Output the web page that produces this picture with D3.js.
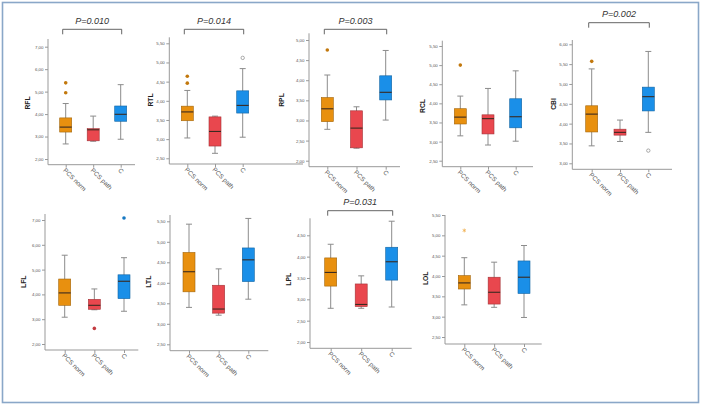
<!DOCTYPE html>
<html>
<head>
<meta charset="utf-8">
<script src="https://cdn.jsdelivr.net/npm/d3@7"></script>
<style>
  body { margin: 0; background: #fff; }
  svg { display: block; font-family: "Liberation Sans", Arial, sans-serif; }
</style>
</head>
<body>
<div id="chart"></div>
<script>
// groups on every x axis
var groups = ["PCS norm", "PCS path", "C"];
var measures = ["RFL", "RTL", "RPL", "RCL", "CBI", "LFL", "LTL", "LPL", "LOL"];

// [low whisker, Q1, median, Q3, high whisker] for PCS norm, PCS path, C
var rfl = [[2.67, 3.20, 3.42, 3.83, 4.47], [2.79, 2.81, 3.30, 3.35, 3.91], [2.88, 3.68, 3.99, 4.36, 5.31]];
var rtl = [[3.03, 3.48, 3.71, 3.86, 4.27], [2.63, 2.82, 3.20, 3.58, 3.60], [3.05, 3.68, 3.88, 4.26, 4.84]];
var rpl = [[2.78, 2.97, 3.29, 3.57, 4.13], [2.31, 2.32, 2.81, 3.24, 3.34], [3.01, 3.51, 3.70, 4.11, 4.74]];
var rcl = [[3.15, 3.46, 3.64, 3.86, 4.19], [2.91, 3.20, 3.60, 3.70, 4.39], [3.01, 3.36, 3.65, 4.12, 4.85]];
var cbi = [[3.44, 3.79, 4.24, 4.45, 5.38], [3.55, 3.71, 3.78, 3.86, 4.09], [3.78, 4.32, 4.68, 4.92, 5.82]];
var lfl = [[3.08, 3.56, 4.06, 4.62, 5.58], [3.38, 3.40, 3.56, 3.80, 4.22], [3.32, 3.83, 4.53, 4.79, 5.48]];
var ltl = [[3.40, 3.78, 4.27, 4.74, 5.43], [3.21, 3.26, 3.36, 3.94, 4.34], [3.60, 4.03, 4.56, 4.85, 5.57]];
var lpl = [[2.79, 3.31, 3.63, 3.97, 4.29], [2.79, 2.83, 2.88, 3.36, 3.55], [2.82, 3.45, 3.88, 4.22, 4.83]];
var lol = [[3.29, 3.68, 3.83, 4.01, 4.45], [3.23, 3.31, 3.60, 3.97, 4.34], [2.98, 3.57, 3.97, 4.37, 4.75]];

// outliers: [measure, group index, value, SPSS marker]
var outliers = [
  ["RFL", 0, 4.95, "dot"], ["RFL", 0, 5.39, "dot"],
  ["RTL", 0, 4.46, "dot"], ["RTL", 0, 4.64, "dot"], ["RTL", 2, 5.12, "ring"],
  ["RPL", 0, 4.75, "dot"],
  ["RCL", 0, 5.00, "dot"],
  ["CBI", 0, 5.57, "dot"], ["CBI", 2, 3.32, "ring"],
  ["LFL", 1, 2.63, "dot"], ["LFL", 2, 7.08, "dot"],
  ["LOL", 0, 5.12, "star"]
];

// y tick values
var ticksRfl = [2, 3, 4, 5, 6, 7];
var ticksRtl = [2.5, 3, 3.5, 4, 4.5, 5, 5.5];
var ticksRpl = [2, 2.5, 3, 3.5, 4, 4.5, 5];
var ticksRcl = [2.5, 3, 3.5, 4, 4.5, 5, 5.5];
var ticksCbi = [3, 3.5, 4, 4.5, 5, 5.5, 6];
var ticksLfl = [2, 3, 4, 5, 6, 7];
var ticksLtl = [2.5, 3, 3.5, 4, 4.5, 5, 5.5];
var ticksLpl = [2, 2.5, 3, 3.5, 4, 4.5];
var ticksLol = [2.5, 3, 3.5, 4, 4.5, 5, 5.5];

// p values of PCS norm vs C (null = none shown)
var pLabels = ["P=0.010", "P=0.014", "P=0.003", null, "P=0.002", null, null, "P=0.031", null];

var stats = [rfl, rtl, rpl, rcl, cbi, lfl, ltl, lpl, lol];
var ticks = [ticksRfl, ticksRtl, ticksRpl, ticksRcl, ticksCbi, ticksLfl, ticksLtl, ticksLpl, ticksLol];

// panel placement in the 702x406 frame
var layout = [
  {x: 48,    base: 164.7, top: 39,    right: 135,   y0: 159,   y1: 46.7,  c0: 65.7,  c1: 120.7, tx: 27,    ty: 103,   by: 29.3},
  {x: 169.3, base: 164,   top: 37.3,  right: 303,   y0: 158.3, y1: 43.3,  c0: 187.3, c1: 242.7, tx: 150,   ty: 100,   by: 29.3},
  {x: 309,   base: 166.7, top: 33.3,  right: 400,   y0: 160.7, y1: 40,    c0: 327.3, c1: 385.7, tx: 281,   ty: 100,   by: 29.3},
  {x: 442.3, base: 166.7, top: 40.7,  right: 533,   y0: 160.7, y1: 46,    c0: 460.3, c1: 515.7, tx: 422,   ty: 106,   by: 0},
  {x: 572.3, base: 169.3, top: 40,    right: 672,   y0: 163.3, y1: 44.3,  c0: 591.7, c1: 648.3, tx: 553,   ty: 104,   by: 22.7},
  {x: 45,    base: 350,   top: 214,   right: 138.3, y0: 344,   y1: 220,   c0: 64.7,  c1: 124,   tx: 23.3,  ty: 281.7, by: 0},
  {x: 170,   base: 350.7, top: 215,   right: 268.3, y0: 344.3, y1: 221.3, c0: 189,   c1: 248.3, tx: 148.3, ty: 281.7, by: 0},
  {x: 310,   base: 348.3, top: 218.3, right: 411.7, y0: 342,   y1: 235.3, c0: 330.7, c1: 391.7, tx: 288.3, ty: 279.3, by: 210.7},
  {x: 445,   base: 344,   top: 215,   right: 541.7, y0: 337,   y1: 215,   c0: 464.3, c1: 524,   tx: 425,   ty: 278.3, by: 0}
];

var colors = d3.scaleOrdinal().domain(groups).range(["#e8900f", "#e9474e", "#1a8fe8"]);
var fmt = d3.formatLocale({decimal: ",", thousands: ".", grouping: [3], currency: ["", ""]}).format(".2f");

var width = 702, height = 406;
var boxW = 12, capW = 6;

var svg = d3.select("#chart").append("svg")
            .attr("width", width)
            .attr("height", height);

// outer frame
svg.append("rect")
   .attr("x", 2.5).attr("y", 2.5)
   .attr("width", 696).attr("height", 400)
   .attr("fill", "none")
   .attr("stroke", "#8aa7c8")
   .attr("stroke-width", 1.6);

measures.forEach(function (name, i) {
    var L = layout[i];
    var tv = ticks[i];
    var y = d3.scaleLinear().domain([tv[0], tv[tv.length - 1]]).range([L.y0, L.y1]);
    var x = d3.scalePoint().domain(groups).range([L.c0, L.c1]);
    var g = svg.append("g");

    // y axis
    var ya = g.append("g")
              .attr("transform", "translate(" + L.x + ",0)")
              .call(d3.axisLeft(y).tickValues(tv).tickFormat(fmt).tickSize(3).tickPadding(1.5));
    ya.select(".domain").remove();
    ya.selectAll("line").attr("stroke", "#999");
    ya.selectAll("text").attr("font-size", 4.4).attr("fill", "#555").attr("font-family", null);
    g.append("line")
     .attr("x1", L.x).attr("x2", L.x)
     .attr("y1", L.top).attr("y2", L.base)
     .attr("stroke", "#999");

    // x axis
    var xa = g.append("g")
              .attr("transform", "translate(0," + L.base + ")")
              .call(d3.axisBottom(x).tickSize(3).tickFormat(""));
    xa.select(".domain").remove();
    xa.selectAll("line").attr("stroke", "#999");
    g.append("line")
     .attr("x1", L.x).attr("x2", L.right)
     .attr("y1", L.base).attr("y2", L.base)
     .attr("stroke", "#999");
    g.selectAll(".cat")
     .data(groups)
     .enter().append("text")
     .attr("class", "cat")
     .attr("transform", function (d) {
         return "translate(" + (x(d) - 3) + "," + (L.base + 6) + ") rotate(45)";
     })
     .attr("font-size", 6.4)
     .attr("fill", "#555")
     .text(function (d) { return d; });

    // axis title
    g.append("text")
     .attr("transform", "translate(" + L.tx + "," + L.ty + ") rotate(-90)")
     .attr("text-anchor", "middle")
     .attr("dominant-baseline", "central")
     .attr("font-size", 6.8)
     .attr("font-weight", "bold")
     .attr("fill", "#222")
     .text(name);

    // boxes
    var b = g.selectAll(".box")
             .data(stats[i])
             .enter().append("g")
             .attr("class", "box");
    b.append("line")
     .attr("x1", function (d, j) { return x(groups[j]); })
     .attr("x2", function (d, j) { return x(groups[j]); })
     .attr("y1", function (d) { return y(d[0]); })
     .attr("y2", function (d) { return y(d[4]); })
     .attr("stroke", "#8c8c8c");
    [0, 4].forEach(function (k) {
        b.append("line")
         .attr("x1", function (d, j) { return x(groups[j]) - capW / 2; })
         .attr("x2", function (d, j) { return x(groups[j]) + capW / 2; })
         .attr("y1", function (d) { return y(d[k]); })
         .attr("y2", function (d) { return y(d[k]); })
         .attr("stroke", "#8c8c8c");
    });
    b.append("rect")
     .attr("x", function (d, j) { return x(groups[j]) - boxW / 2; })
     .attr("width", boxW)
     .attr("y", function (d) { return y(d[3]); })
     .attr("height", function (d) { return y(d[1]) - y(d[3]); })
     .attr("fill", function (d, j) { return colors(groups[j]); })
     .attr("stroke", function (d, j) { return d3.color(colors(groups[j])).darker(1); })
     .attr("stroke-width", 0.6);
    b.append("line")
     .attr("x1", function (d, j) { return x(groups[j]) - boxW / 2; })
     .attr("x2", function (d, j) { return x(groups[j]) + boxW / 2; })
     .attr("y1", function (d) { return y(d[2]); })
     .attr("y2", function (d) { return y(d[2]); })
     .attr("stroke", "#3a2a20")
     .attr("stroke-width", 1.1);

    // outliers
    var pts = outliers.filter(function (o) { return o[0] === name; });
    pts.forEach(function (o) {
        var cx = x(groups[o[1]]), cy = y(o[2]);
        var c = colors(groups[o[1]]);
        if (o[3] === "dot") {
            g.append("circle").attr("cx", cx).attr("cy", cy).attr("r", 1.8)
             .attr("fill", d3.color(c).darker(0.5));
        } else if (o[3] === "ring") {
            g.append("circle").attr("cx", cx).attr("cy", cy).attr("r", 1.7)
             .attr("fill", "none").attr("stroke", "#888").attr("stroke-width", 0.7);
        } else {
            g.append("path").attr("transform", "translate(" + cx + "," + cy + ")")
             .attr("d", d3.symbol(d3.symbolAsterisk, 10)())
             .attr("stroke", "#f0b050").attr("stroke-width", 0.8).attr("fill", "none");
        }
    });

    // significance bracket
    if (pLabels[i]) {
        var bx0 = x(groups[0]) - 3, bx1 = x(groups[2]) + 1;
        g.append("path")
         .attr("d", "M" + bx0 + "," + (L.by + 5) + "V" + L.by + "H" + bx1 + "V" + (L.by + 5))
         .attr("fill", "none")
         .attr("stroke", "#555")
         .attr("stroke-width", 0.9);
        g.append("text")
         .attr("x", (bx0 + bx1) / 2)
         .attr("y", L.by - 5.5)
         .attr("text-anchor", "middle")
         .attr("font-size", 9)
         .attr("font-style", "italic")
         .attr("fill", "#333")
         .text(pLabels[i]);
    }
});
</script>
</body>
</html>
